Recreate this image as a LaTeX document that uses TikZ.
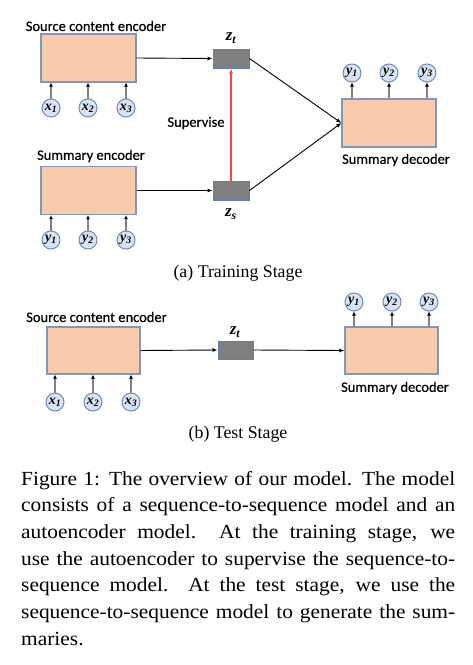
\documentclass[tikz,border=0pt]{standalone}
\usepackage{fontspec}
\setmainfont{Liberation Serif}
\newfontfamily\sansf{Carlito}[FakeBold=0.4]
\newfontfamily\capf{Liberation Serif}[FakeStretch=1.07]
\usetikzlibrary{arrows.meta}
\newcommand{\vsym}[2]{{\bfseries\itshape #1\textsubscript{#2}}}
\definecolor{peach}{HTML}{F8CBAD}
\definecolor{boxedge}{HTML}{7F97BC}
\definecolor{circfill}{HTML}{DAE3F3}
\definecolor{circedge}{HTML}{6A8CC0}
\definecolor{zfill}{HTML}{7F7F7F}
\definecolor{zedge}{HTML}{5B7FAF}
\definecolor{stemgray}{HTML}{808080}
\definecolor{supred}{HTML}{FF4545}
\begin{document}
\begin{tikzpicture}[x=1pt,y=-1pt,
 encbox/.style={draw=boxedge,fill=peach,line width=1.3pt,minimum width=95pt,minimum height=48pt,inner sep=0pt},
 zbox/.style={draw=zedge,fill=zfill,line width=1pt,minimum width=36pt,minimum height=19pt,inner sep=0pt},
 tok/.style={circle,draw=circedge,fill=circfill,line width=1pt,minimum size=18pt,inner sep=0pt,font=\fontsize{14}{14}\selectfont},
 lab/.style={font=\sansf\fontsize{14.5}{16}\selectfont,inner sep=0pt},
 zlab/.style={font=\fontsize{17}{17}\selectfont,inner sep=0pt},
 conn/.style={draw=black,line width=0.9pt,-{Latex[length=5pt,width=4pt]}},
 stem/.style={draw=stemgray,line width=1.5pt,-{Latex[length=4pt,width=4pt,color=black]}},
 redconn/.style={draw=supred,line width=1.2pt,-{Latex[length=5pt,width=4pt]}},
 subcap/.style={font=\fontsize{17.8}{20}\selectfont,inner sep=0pt},
 capline/.style={anchor=base west,inner sep=0pt,font=\capf\fontsize{20}{24}\selectfont}
]
\useasboundingbox[fill=white] (0,0) rectangle (473,665);

% ---------- (a) training stage ----------
\node[lab] (lsrc) at (96,26) {Source content encoder};
\node[encbox] (enc1) at (88.5,58) {};
\node[tok] (x1) at (51,108) {\vsym{x}{1}};
\node[tok] (x2) at (88,108) {\vsym{x}{2}};
\node[tok] (x3) at (126,108) {\vsym{x}{3}};
\draw[stem] (x1.north) -- (x1.north |- enc1.south);
\draw[stem] (x2.north) -- (x2.north |- enc1.south);
\draw[stem] (x3.north) -- (x3.north |- enc1.south);

\node[lab] (lsum) at (91,156) {Summary encoder};
\node[encbox] (enc2) at (88.5,190.5) {};
\node[tok] (y1) at (51,240) {\vsym{y}{1}};
\node[tok] (y2) at (88,240) {\vsym{y}{2}};
\node[tok] (y3) at (126,240) {\vsym{y}{3}};
\draw[stem] (y1.north) -- (y1.north |- enc2.south);
\draw[stem] (y2.north) -- (y2.north |- enc2.south);
\draw[stem] (y3.north) -- (y3.north |- enc2.south);

\node[zbox] (zt) at (231,58.5) {};
\node[zlab] (ztl) at (231,38) {\vsym{z}{t}};
\node[zbox] (zs) at (231,190.5) {};
\node[zlab] (zsl) at (231,214) {\vsym{z}{s}};
\node[lab] (lsup) at (196,123) {Supervise};

\draw[conn] (enc1.east) -- (zt.west);
\draw[conn] (enc2.east) -- (zs.west);
\draw[redconn] (zs.north) -- (zt.south);

\node[encbox,minimum width=94pt] (dec1) at (389,123) {};
\node[lab] (ldec1) at (396,160) {Summary decoder};
\draw[conn] (zt.east) -- (dec1.west);
\draw[conn] (zs.east) -- (dec1.west);
\node[tok] (o1) at (352,73) {\vsym{y}{1}};
\node[tok] (o2) at (389,73) {\vsym{y}{2}};
\node[tok] (o3) at (427,73) {\vsym{y}{3}};
\draw[stem] (o1.south |- dec1.north) -- (o1.south);
\draw[stem] (o2.south |- dec1.north) -- (o2.south);
\draw[stem] (o3.south |- dec1.north) -- (o3.south);

\node[subcap] (capa) at (238,273) {(a) Training Stage};

% ---------- (b) test stage ----------
\node[lab] (lsrc3) at (96.5,317) {Source content encoder};
\node[encbox,minimum width=93pt,minimum height=47pt] (enc3) at (93.5,350.5) {};
\node[tok] (tx1) at (55,402) {\vsym{x}{1}};
\node[tok] (tx2) at (93,402) {\vsym{x}{2}};
\node[tok] (tx3) at (131,402) {\vsym{x}{3}};
\draw[stem] (tx1.north) -- (tx1.north |- enc3.south);
\draw[stem] (tx2.north) -- (tx2.north |- enc3.south);
\draw[stem] (tx3.north) -- (tx3.north |- enc3.south);

\node[zbox,minimum width=35pt,minimum height=18pt] (zt3) at (235.5,350) {};
\node[zlab] (zt3l) at (235,332) {\vsym{z}{t}};

\node[encbox,minimum width=93pt,minimum height=47pt] (dec3) at (391.5,350.5) {};
\node[lab] (ldec3) at (395,388) {Summary decoder};
\node[tok] (to1) at (354,302) {\vsym{y}{1}};
\node[tok] (to2) at (392,302) {\vsym{y}{2}};
\node[tok] (to3) at (429,302) {\vsym{y}{3}};
\draw[stem] (to1.south |- dec3.north) -- (to1.south);
\draw[stem] (to2.south |- dec3.north) -- (to2.south);
\draw[stem] (to3.south |- dec3.north) -- (to3.south);

\draw[conn] (enc3.east) -- (zt3.west);
\draw[conn] (zt3.east) -- (dec3.west);

\node[subcap] (capb) at (238,434) {(b) Test Stage};

% ---------- caption ----------
\node[capline] (c1) at (21,485) {\makebox[434pt][s]{Figure 1: The overview of our model. The model}};
\node[capline] (c2) at (21,511.7) {\makebox[434pt][s]{consists of a sequence-to-sequence model and an}};
\node[capline] (c3) at (21,538.3) {\makebox[434pt][s]{autoencoder model.\ \ At the training stage, we}};
\node[capline] (c4) at (21,565) {\makebox[434pt][s]{use the autoencoder to supervise the sequence-to-}};
\node[capline] (c5) at (21,591.7) {\makebox[434pt][s]{sequence model.\ \ At the test stage, we use the}};
\node[capline] (c6) at (21,618.3) {\makebox[434pt][s]{sequence-to-sequence model to generate the sum-}};
\node[capline] (c7) at (21,645) {maries.};
\end{tikzpicture}
\end{document}
